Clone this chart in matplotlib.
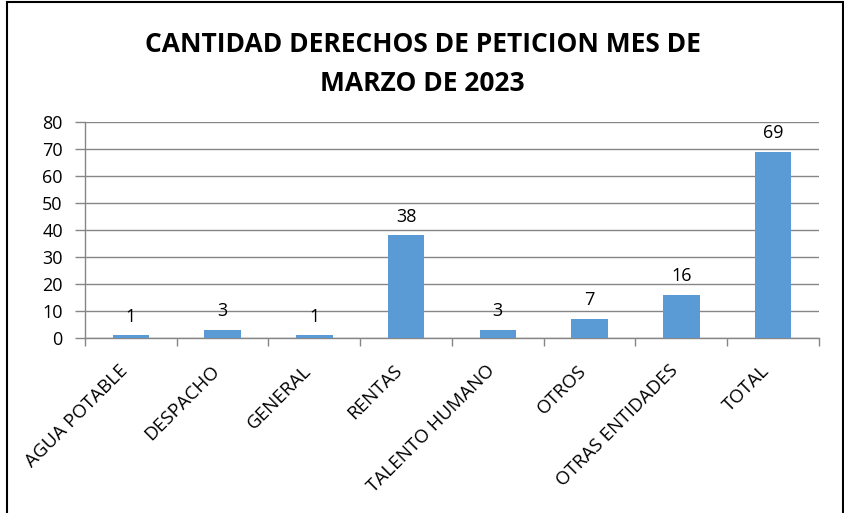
import matplotlib
matplotlib.use("Agg")
import matplotlib.pyplot as plt
from matplotlib.patches import Rectangle

categories = ["AGUA POTABLE", "DESPACHO", "GENERAL", "RENTAS", "TALENTO HUMANO",
              "OTROS", "OTRAS ENTIDADES", "TOTAL"]
values = [1, 3, 1, 38, 3, 7, 16, 69]
yticks = [0, 10, 20, 30, 40, 50, 60, 70, 80]
title = "CANTIDAD DERECHOS DE PETICION MES DE\nMARZO DE 2023"

plt.rcParams['font.family'] = ['Open Sans', 'DejaVu Sans']

fig = plt.figure(figsize=(8.45, 5.13), dpi=100)
ax = fig.add_axes([85/845, 1-338/513, (819-85)/845, (338-122)/513])

x = list(range(len(categories)))
bars = ax.bar(x, values, width=0.4, color="#5B9BD5", zorder=3)
for xi, v in zip(x, values):
    ax.annotate(str(v), (xi, v), xytext=(0, 7), textcoords="offset points",
                ha="center", va="bottom", fontsize=13, color="black")

ax.set_xlim(-0.5, len(categories) - 0.5)
ax.set_ylim(0, 80)
ax.set_yticks(yticks)
ax.yaxis.grid(True, color="#868686", linewidth=1)
ax.set_axisbelow(True)
ax.tick_params(axis="y", length=7, width=1, color="#868686", labelsize=13, pad=9)

ax.set_xticks([i - 0.5 for i in range(len(categories) + 1)])
ax.set_xticklabels([])
ax.tick_params(axis="x", which="major", length=6, width=1, color="#868686")
ax.set_xticks(x, minor=True)
ax.set_xticklabels(categories, minor=True, rotation=45, ha="right", va="top",
                   rotation_mode="default", fontsize=13.5)
ax.tick_params(axis="x", which="minor", length=0, pad=17)

for s in ["top", "right"]:
    ax.spines[s].set_visible(False)
for s in ["left", "bottom"]:
    ax.spines[s].set_color("#868686")
    ax.spines[s].set_linewidth(1)

fig.text(0.5, 1 - 64/513, title, ha="center", va="center", fontsize=19,
         fontweight="bold", linespacing=1.6)

fig.patches.append(Rectangle((7/845, -0.01), (843-7)/845, 1.01 - 2/513,
                             transform=fig.transFigure, fill=False,
                             edgecolor="black", linewidth=1.5, zorder=10))

fig.savefig("out.png", dpi=100)
